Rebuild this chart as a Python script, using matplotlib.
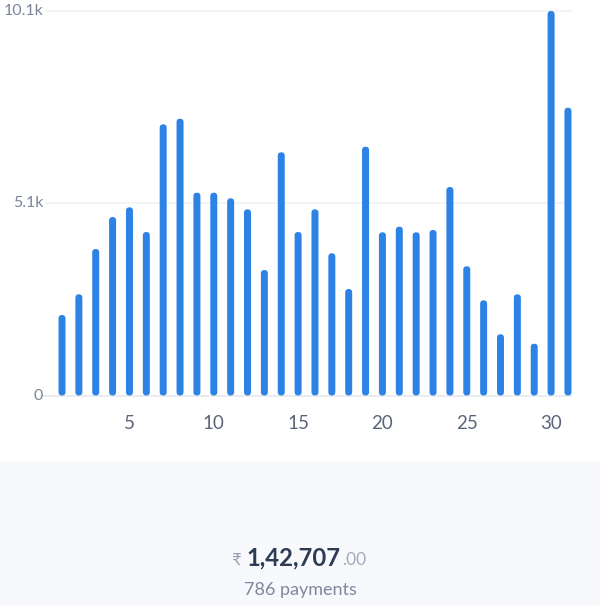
import matplotlib
matplotlib.use("Agg")
import matplotlib.pyplot as plt
from matplotlib.patches import FancyBboxPatch, Rectangle

plt.rcParams['font.family'] = ['Lato', 'DejaVu Sans']

# daily payment amounts (rupees)
days = list(range(1, 32))
amounts = [2125, 2671, 3867, 4712, 4968, 4316, 7159, 7307, 5354, 5354,
           5206, 4915, 3313, 6420, 4316, 4915, 3754, 2811, 6568, 4308,
           4456, 4308, 4369, 5504, 3411, 2513, 1616, 2671, 1367, 10150,
           7597]
y_ticks = [0, 5075, 10150]
y_tick_labels = ["0", "5.1k", "10.1k"]
x_ticks = [5, 10, 15, 20, 25, 30]
total_main = "1,42,707"
total_frac = ".00"
count_label = "786 payments"

bar_color = "#2d82e6"
W, H = 600, 606

fig = plt.figure(figsize=(W / 100, H / 100), dpi=100)
fig.patch.set_facecolor("white")

# light footer band
fig.patches.append(Rectangle((0, 0), 1, (H - 461) / H, transform=fig.transFigure,
                             facecolor="#f8f9fc", edgecolor="none", zorder=0))

ax_l, ax_r = 40, 572
ax_b, ax_t = 395.5, 11
ax = fig.add_axes([ax_l / W, (H - ax_b) / H, (ax_r - ax_l) / W, (ax_b - ax_t) / H])
ax.set_facecolor("none")

px_per_x = 16.865
x0 = 1 - (62 - ax_l) / px_per_x
x1 = x0 + (ax_r - ax_l) / px_per_x
ax.set_xlim(x0, x1)
ax.set_ylim(0, y_ticks[-1])
px_per_y = (ax_b - ax_t) / y_ticks[-1]
aspect = px_per_x / px_per_y

bar_w = 0.415
for d, v in zip(days, amounts):
    ax.add_patch(FancyBboxPatch((d - bar_w / 2, 0), bar_w, v,
                                boxstyle="round,pad=0,rounding_size=%f" % (bar_w / 2),
                                mutation_aspect=aspect,
                                facecolor=bar_color, edgecolor="none", zorder=3))

# gridlines start right after the y labels
for yv, lab in zip(y_ticks, y_tick_labels):
    start = x0 if yv == 0 else 1 - (62 - 45) / px_per_x
    col = "#e6e8ec" if yv == 0 else "#f1f2f5"
    ax.hlines(yv, start, x1, color=col, lw=1.2, zorder=1, clip_on=False)
    ax.text(1 - (62 - 43) / px_per_x, yv, lab, ha="right", va="center",
            fontsize=11.5, color="#7c8598")

for s in ax.spines.values():
    s.set_visible(False)
ax.set_yticks([])
ax.set_xticks(x_ticks)
ax.set_xticklabels([str(t) for t in x_ticks])
ax.tick_params(axis="x", length=0, pad=14, labelsize=13.5, labelcolor="#5b6579")

# totals under the chart
base_y = (H - 565) / H
main = fig.text(293.5 / W, base_y, total_main, ha="center", va="baseline",
                fontsize=17.2, fontweight="bold", color="#2e3b55")
fig.canvas.draw()
bb = main.get_window_extent(fig.canvas.get_renderer())
fig.text((bb.x1 + 1) / W, base_y, total_frac, ha="left", va="baseline",
         fontsize=12.5, color="#a3abba")
fig.text((bb.x0 - 5) / W, base_y, "\u20b9", ha="right", va="baseline",
         fontsize=12, color="#9aa2b1")
fig.text(0.5, (H - 595) / H, count_label, ha="center", va="baseline",
         fontsize=13, color="#7f889b")

fig.savefig("out.png", dpi=100)
